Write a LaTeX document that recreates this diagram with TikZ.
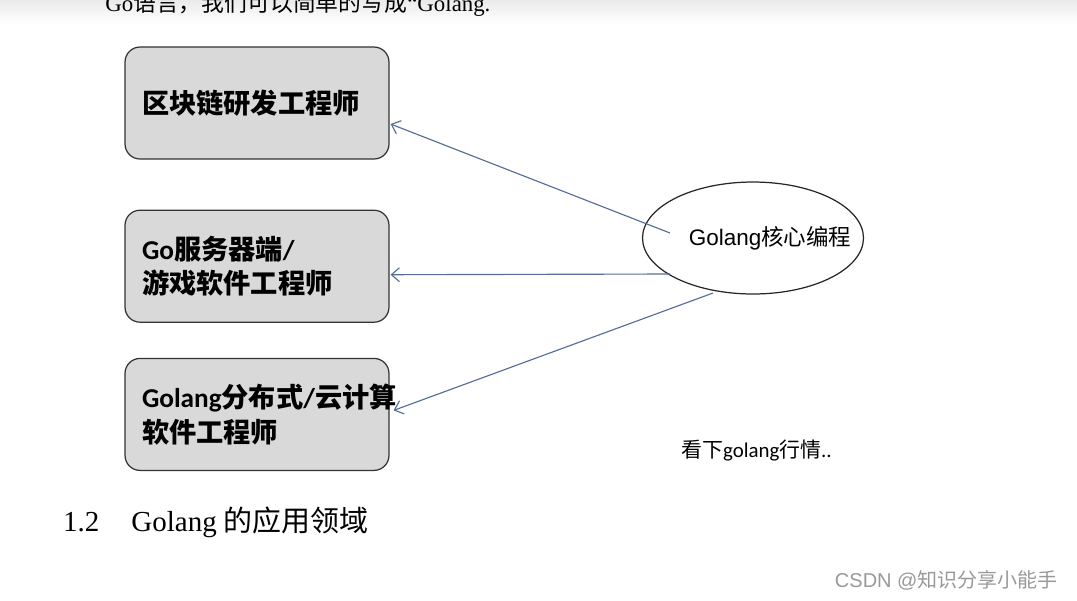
\documentclass[tikz,border=0pt]{standalone}
\usepackage{fontspec}
\setmainfont{Carlito}
\newfontfamily\zh{Noto Sans CJK SC}
\newfontfamily\arialfont{Liberation Sans}
\newfontfamily\seriflat{Liberation Serif}
\usepackage{tikz}
\usetikzlibrary{shapes,arrows.meta,positioning}
\definecolor{linkblue}{RGB}{84,110,150}
\definecolor{boxgray}{RGB}{217,217,217}

\begin{document}
\begin{tikzpicture}[
    x=0.02cm, y=-0.02cm,
    node distance=1cm,
    box/.style={rectangle, rounded corners=0.3cm, draw=black!80, fill=boxgray, line width=0.7pt, minimum width=5.28cm, minimum height=2.24cm, text width=4.6cm, inner xsep=0.34cm, align=left, font=\fontsize{15.5}{19.5}\selectfont\bfseries},
    arrow/.style={-{Straight Barb[length=1.6mm, width=2.8mm]}, draw=linkblue, line width=0.65pt}
]
\useasboundingbox (0,0) rectangle (1077,600);
\shade[top color=black!8, bottom color=white] (0,0) rectangle (1077,24);

% Intro line (cut at top)
\node[anchor=base west, inner sep=0pt, font=\fontsize{13}{15}\selectfont] (intro) at (105,11) {{\seriflat Go}{\zh 语言，我们可以简单的写成}{\seriflat “Golang.}};

% Jobs
\node[box] (chain) at (257,103) {{\zh 区块链研发工程师}};
\node[box, below=1cm of chain] (server) {Go{\zh 服务器端}/\\{\zh 游戏软件工程师}};
\node[box, below=0.7cm of server] (cloud) {\mbox{Golang{\zh 分布式}/{\zh 云计算}}\\{\zh 软件工程师}};

% Core
\node[ellipse, draw=black!85, line width=0.7pt, minimum width=4.42cm, minimum height=2.24cm, inner sep=0pt, font=\fontsize{12.8}{15}\selectfont] (core) at (753,238) {\makebox[0pt]{\hspace{0.68cm}{\arialfont Golang}{\zh 核心编程}}};

% Arrows
\draw[arrow] ([shift={(-83,-5)}]core.center) -- ([shift={(1,21)}]chain.east);
\draw[arrow] ([shift={(-83,36)}]core.center) -- ([shift={(1,8.5)}]server.east);
\draw[arrow] ([shift={(-40,55)}]core.center) -- ([shift={(4,-4)}]cloud.east);

% Notes
\node[anchor=west, font=\fontsize{11.9}{14}\selectfont] (note) at (675,450) {{\zh 看下}golang{\zh 行情}..};
\node[anchor=west, font=\fontsize{16.5}{20}\selectfont] (section) at (57,522) {{\seriflat 1.2}\hspace{0.64cm}{\seriflat Golang} {\zh 的应用领域}};
\node[anchor=east, text=black!40, font=\arialfont\fontsize{11.4}{14}\selectfont] (mark) at (1064,580) {CSDN @{\zh 知识分享小能手}};

\end{tikzpicture}
\end{document}
